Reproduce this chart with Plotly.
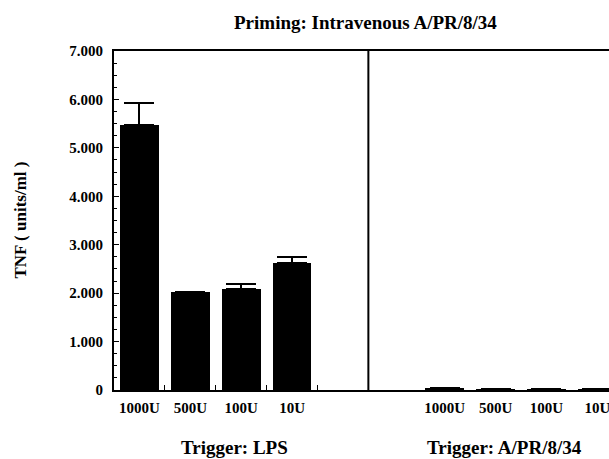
import plotly.graph_objects as go

# Data
categories = ["1000U", "500U", "100U", "10U", "1000U", "500U", "100U", "10U"]
positions = [0, 1, 2, 3, 6, 7, 8, 9]
tnf_values = [5480, 2020, 2080, 2630, 50, 20, 20, 20]
tnf_err_plus = [450, 0, 110, 120, 0, 0, 0, 0]
y_tick_vals = [0, 1000, 2000, 3000, 4000, 5000, 6000, 7000]
y_tick_text = ["0", "1.000", "2.000", "3.000", "4.000", "5.000", "6.000", "7.000"]
group_labels = ["Trigger: LPS", "Trigger: A/PR/8/34"]
title_text = "Priming: Intravenous A/PR/8/34"
y_title = "TNF ( units/ml )"

FONT = "Liberation Serif"

fig = go.Figure()
fig.add_trace(go.Bar(
    x=positions,
    y=tnf_values,
    width=0.76,
    marker=dict(color="black", line=dict(width=0)),
    error_y=dict(type="data", symmetric=False, array=tnf_err_plus,
                 arrayminus=[0] * len(tnf_err_plus),
                 color="black", thickness=2, width=15),
    showlegend=False,
))

fig.update_layout(
    width=609, height=459,
    margin=dict(l=114, r=0, t=51, b=69),
    paper_bgcolor="white", plot_bgcolor="white",
    font=dict(family=FONT, color="black"),
    bargap=0,
)

fig.update_xaxes(
    range=[-0.5, 9.23],
    tickvals=positions, ticktext=[f"<b>{c}</b>" for c in categories],
    tickfont=dict(size=15, family=FONT),
    ticks="", ticklabelstandoff=3, ticklabeloverflow="allow",
    showgrid=False, zeroline=False,
    showline=True, linecolor="black", linewidth=2, mirror=True,
    minor=dict(tickvals=[0.5, 1.5, 2.5, 3.5], ticks="inside", ticklen=5,
               tickcolor="black", tickwidth=1, showgrid=False),
)

fig.update_yaxes(
    range=[0, 7000],
    tickvals=y_tick_vals, ticktext=[f"<b>{t}</b>" for t in y_tick_text],
    tickfont=dict(size=15, family=FONT),
    ticks="inside", ticklen=5, tickwidth=1, tickcolor="black",
    ticklabelstandoff=6,
    minor=dict(dtick=250, ticks="inside", ticklen=3, tickcolor="black",
               tickwidth=1, showgrid=False),
    showgrid=False, zeroline=False,
    showline=True, linecolor="black", linewidth=2, mirror=False,
)

# y-axis title
fig.add_annotation(text=f"<b>{y_title}</b>", xref="paper", yref="paper",
                   x=0, xshift=-94, y=0.5, textangle=-90, showarrow=False,
                   font=dict(size=17, family=FONT),
                   xanchor="center", yanchor="middle")

# divider between panels
fig.add_shape(type="line", xref="x", yref="paper", x0=4.5, x1=4.5, y0=0, y1=1,
              line=dict(color="black", width=2))

# title
fig.add_annotation(text=f"<b>{title_text}</b>", xref="x", yref="paper",
                   x=4.45, y=1, yshift=29, showarrow=False,
                   font=dict(size=19, family=FONT), yanchor="middle")

# group labels
for lab, cx in zip(group_labels, [1.86, 7.17]):
    fig.add_annotation(text=f"<b>{lab}</b>", xref="x", yref="paper",
                       x=cx, y=0, yshift=-57, showarrow=False,
                       font=dict(size=19, family=FONT), yanchor="middle")

fig.write_html("out.html", config={"displayModeBar": False},
               post_script="document.body.style.margin='0';document.body.style.overflow='hidden';")
